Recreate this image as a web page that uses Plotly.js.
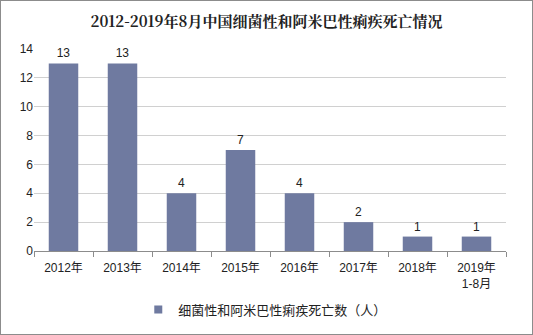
<!DOCTYPE html>
<html><head><meta charset="utf-8">
<script src="https://cdn.plot.ly/plotly-3.0.1.min.js"></script>
<style>
html,body{margin:0;padding:0;background:#fff;}
#wrap{position:absolute;left:0;top:0;width:533px;height:335px;box-sizing:border-box;border:1px solid #8c8c8c;}
#chart{position:absolute;left:0;top:0;width:533px;height:335px;}
</style></head>
<body>
<div id="chart"></div><div id="wrap"></div>
<script>
const categories = ["2012年","2013年","2014年","2015年","2016年","2017年","2018年","2019年<br>1-8月"];
const deaths = [13,13,4,7,4,2,1,1];
const seriesName = "细菌性和阿米巴性痢疾死亡数（人）";
const titleText = "2012-2019年8月中国细菌性和阿米巴性痢疾死亡情况";
const barColor = "#6f7aa0";

const trace = {
  type: "bar", x: categories, y: deaths, name: seriesName,
  marker: {color: barColor},
  text: deaths.map(String), textposition: "outside", cliponaxis: false,
  textfont: {family: "Liberation Sans, Arial, sans-serif", size: 12, color: "#222"},
  showlegend: false
};
const legendTrace = {
  type: "scatter", mode: "markers", x: [null], y: [null], name: seriesName,
  marker: {symbol: "square", size: 8, color: barColor}, showlegend: true, hoverinfo: "skip"
};
const layout = {
  width: 533, height: 335,
  margin: {l: 34, r: 27, t: 49, b: 84, autoexpand: false},
  paper_bgcolor: "#fff", plot_bgcolor: "#fff",
  bargap: 0.5,
  title: {text: "<b>" + titleText + "</b>", x: 0.5, xanchor: "center", y: 0.935, yanchor: "middle",
    font: {family: "Noto Serif CJK SC, Noto Sans CJK SC, serif", size: 15, color: "#222"}},
  xaxis: {showline: true, linecolor: "#8c8c8c", linewidth: 1, ticks: "outside", tickson: "boundaries",
    ticklen: 5, tickcolor: "#8c8c8c", showgrid: false, ticklabelstandoff: 6, automargin: false,
    tickfont: {family: "Liberation Sans, Noto Sans CJK SC, sans-serif", size: 12, color: "#222"}},
  yaxis: {range: [0, 14], dtick: 2, showgrid: true, gridcolor: "#d0d0d0", zeroline: false, showline: false,
    automargin: false,
    ticks: "", tickfont: {family: "Liberation Sans, Arial, sans-serif", size: 12, color: "#222"}},
  showlegend: true,
  legend: {orientation: "h", x: 0.49, xanchor: "center", y: -0.29, yanchor: "middle",
    font: {family: "Noto Sans CJK SC, sans-serif", size: 13, color: "#222"}, itemwidth: 30}
};
Plotly.newPlot("chart", [trace, legendTrace], layout, {displayModeBar: false, staticPlot: true});
</script>
</body></html>
